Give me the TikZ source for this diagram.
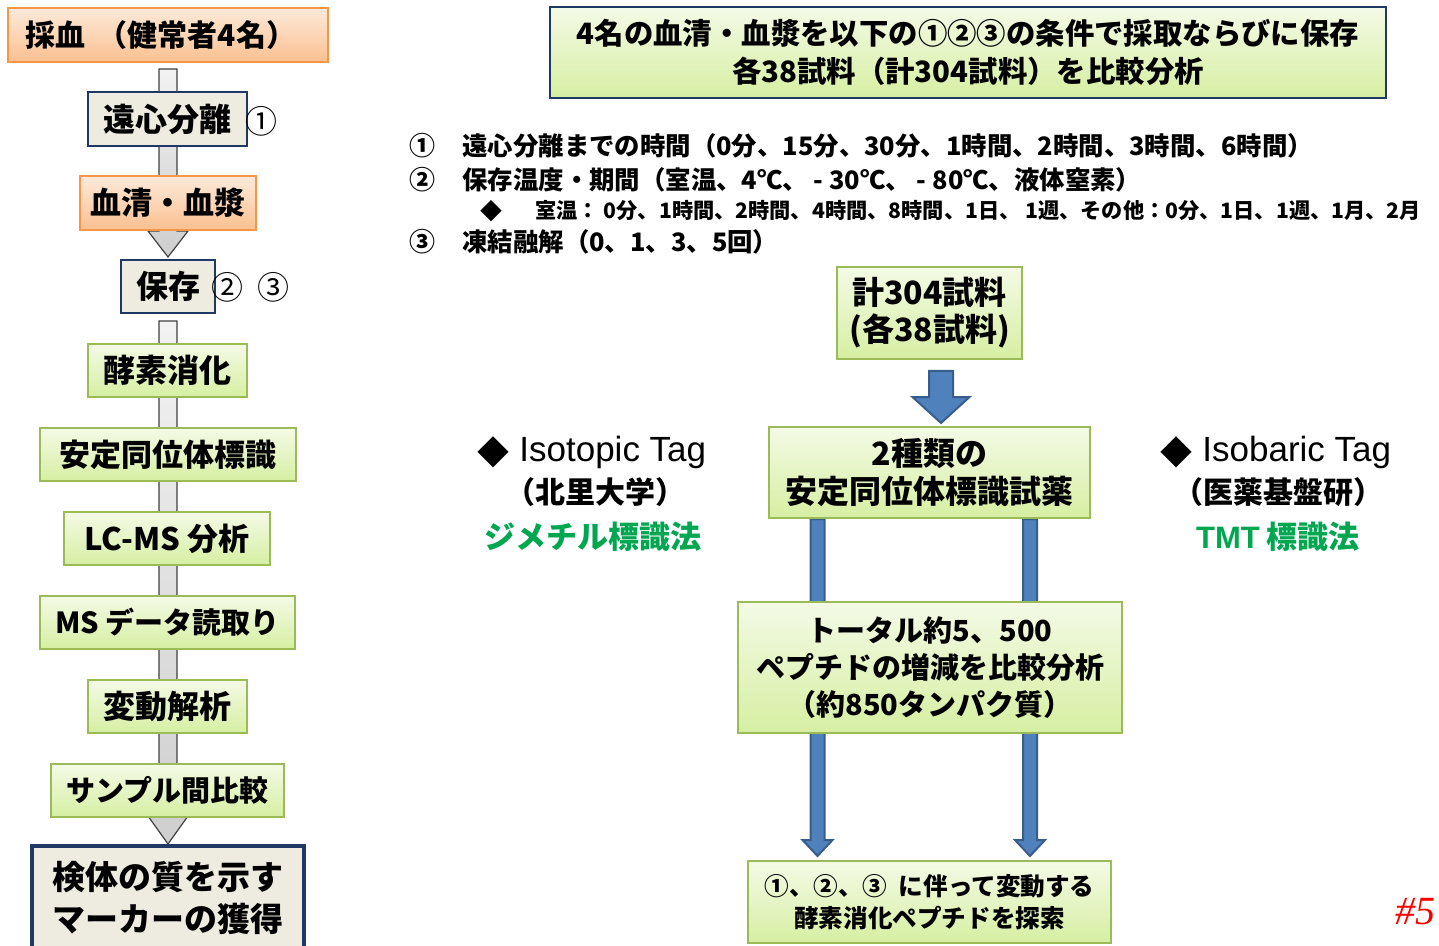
\documentclass[tikz,border=0pt]{standalone}
\usepackage{fontspec}
\setmainfont{Noto Sans CJK JP}
\newfontfamily\arialf{Liberation Sans}
\newfontfamily\serff{Liberation Serif}
\usetikzlibrary{calc,backgrounds}
\definecolor{orB}{HTML}{F79646}
\definecolor{orT}{HTML}{FDEADA}
\definecolor{orBot}{HTML}{FAC090}
\definecolor{grB}{HTML}{9BBB59}
\definecolor{grT}{HTML}{F4FAE6}
\definecolor{grBot}{HTML}{D6EFA2}
\definecolor{navy}{HTML}{1F3864}
\definecolor{beige}{HTML}{EEECE1}
\definecolor{blueF}{HTML}{4F81BD}
\definecolor{blueB}{HTML}{385D8A}
\definecolor{tagG}{HTML}{00A650}
\newcommand{\fs}[2]{\fontsize{#1}{#2}\selectfont}
\tikzset{
  boxbase/.style={inner sep=0pt, align=center},
  orangebox/.style={boxbase, draw=orB, line width=1pt, top color=orT, bottom color=orBot},
  beigebox/.style={boxbase, draw=navy, line width=1pt, fill=beige},
  greenbox/.style={boxbase, draw=grB, line width=1pt, top color=grT, bottom color=grBot},
  topbox/.style={boxbase, draw=navy, line width=1pt, top color=grT, bottom color=grBot},
  shaft/.style={draw=black!75, line width=0.6pt, top color=gray!10, bottom color=gray!38},
  bluearr/.style={draw=blueB, line width=1pt, fill=blueF, line join=miter},
  plain/.style={inner sep=0pt},
}
\begin{document}
\begin{tikzpicture}[x=0.5pt,y=-0.5pt]
\useasboundingbox (0,0) rectangle (1439,946);

% ---------------- left column ----------------
\node[orangebox, minimum width=160pt, minimum height=27pt, font=\fs{15}{18}\bfseries] (saiketsu) at (168,35)
  {\hspace*{-7pt}採血 \,（健常者4名）};
\node[beigebox, minimum width=79.5pt, minimum height=27pt, font=\fs{16}{18}\bfseries] (enshin) at (167.5,119)
  {遠心分離};
\node[plain, font=\fs{16}{18}] (c1) at (261,121) {①};
\node[orangebox, minimum width=88pt, minimum height=27pt, font=\fs{15.5}{18}\bfseries] (kessei) at (168,203)
  {血清・血漿};
\node[beigebox, minimum width=47pt, minimum height=26.5pt, font=\fs{16}{18}\bfseries] (hozon) at (168,286.5)
  {保存};
\node[plain, font=\fs{16}{18}] (c2) at (227,287) {②};
\node[plain, font=\fs{16}{18}] (c3) at (273,287) {③};
\node[greenbox, minimum width=79.5pt, minimum height=26.5pt, font=\fs{16}{18}\bfseries] (koso) at (167.5,370.5)
  {酵素消化};
\node[greenbox, minimum width=128pt, minimum height=26.5pt, font=\fs{15.5}{18}\bfseries] (antei) at (168,454.5)
  {安定同位体標識};
\node[greenbox, minimum width=103pt, minimum height=26.5pt, font=\fs{15.5}{18}\bfseries] (lcms) at (167,538.5)
  {LC-MS 分析};
\node[greenbox, minimum width=127.5pt, minimum height=26.5pt, font=\fs{14.5}{18}\bfseries] (msdata) at (167.5,622.5)
  {MS データ読取り};
\node[greenbox, minimum width=79.5pt, minimum height=26.5pt, font=\fs{16}{18}\bfseries] (hendo) at (167.5,706.5)
  {変動解析};
\node[greenbox, minimum width=116.5pt, minimum height=26.5pt, font=\fs{14.5}{18}\bfseries] (sample) at (167.5,790.5)
  {サンプル間比較};
\node[boxbase, draw=navy, line width=2pt, fill=beige, minimum width=136pt, minimum height=52pt, font=\fs{16.5}{21}\bfseries] (kentai) at (168,898)
  {検体の質を示す\\ マーカーの獲得};

\begin{pgfonlayer}{background}
\path[shaft] ($(saiketsu.south)+(-9,6)$) -- ($(saiketsu.south)+(9,6)$)
  -- ($(hozon.north)+(9,-28)$) -- ($(hozon.north)+(20,-28)$)
  -- ($(hozon.north)+(0,-2)$) -- ($(hozon.north)+(-20,-28)$)
  -- ($(hozon.north)+(-9,-28)$) -- cycle;
\path[shaft] ($(hozon.south)+(-9,7)$) -- ($(hozon.south)+(9,7)$)
  -- ($(kentai.north)+(9,-28)$) -- ($(kentai.north)+(20,-28)$)
  -- ($(kentai.north)+(0,0)$) -- ($(kentai.north)+(-20,-28)$)
  -- ($(kentai.north)+(-9,-28)$) -- cycle;
\end{pgfonlayer}

% ---------------- right side ----------------
\node[topbox, minimum width=418pt, minimum height=45.5pt, font=\fs{14.7}{19}\bfseries] (top) at (968,52.5)
  {4名の血清・血漿を以下の①②③の条件で採取ならびに保存\\ 各38試料（計304試料）を比較分析};

\node[plain, font=\fs{13}{15}\bfseries] (n1) at (422,146) {①};
\node[plain, anchor=west, font=\fs{12.7}{15}\bfseries] (t1) at (462,146)
  {遠心分離までの時間（0分、15分、30分、1時間、2時間、3時間、6時間）};
\node[plain, font=\fs{13}{15}\bfseries] (n2) at (422,180) {②};
\node[plain, anchor=west, font=\fs{12.7}{15}\bfseries] (t2) at (462,180)
  {保存温度・期間（室温、4℃、 - 30℃、 - 80℃、液体窒素）};
\node[plain, font=\fs{11}{13}\bfseries] (d3) at (491,211) {◆};
\node[plain, anchor=west, font=\fs{10.6}{13}\bfseries] (t3) at (535,211)
  {室温： 0分、1時間、2時間、4時間、8時間、1日、 1週、その他：0分、1日、1週、1月、2月};
\node[plain, font=\fs{13}{15}\bfseries] (n4) at (422,242) {③};
\node[plain, anchor=west, font=\fs{12.7}{15}\bfseries] (t4) at (462,242)
  {凍結融解（0、1、3、5回）};

\node[greenbox, minimum width=92.5pt, minimum height=46pt, font=\fs{16}{18.5}\bfseries] (keisu) at (929.5,313)
  {計304試料\\ (各38試料)};
\node[greenbox, minimum width=160.5pt, minimum height=45.5pt, font=\fs{16}{19}\bfseries] (shurui) at (929.5,472.5)
  {2種類の\\ 安定同位体標識試薬};
\node[greenbox, minimum width=192pt, minimum height=65.5pt, font=\fs{14.5}{18.5}\bfseries] (total) at (930,667.5)
  {トータル約5、500\\ ペプチドの増減を比較分析\\ （約850タンパク質）};
\node[greenbox, minimum width=181.5pt, minimum height=41pt, font=\fs{12.3}{16}\bfseries] (final) at (929.5,902)
  {①、②、③ \ に伴って変動する\\ 酵素消化ペプチドを探索};

% tags
\node[plain, font=\fs{16}{18}] (dIso) at (493,452) {◆};
\node[plain, anchor=west, font=\arialf\fs{17.5}{20}] (iso) at (519,452) {Isotopic Tag};
\node[plain, font=\fs{15}{18}\bfseries] (kita) at (595,492) {（北里大学）};
\node[plain, text=tagG, font=\fs{15.5}{18}\bfseries] (dimet) at (593,537) {ジメチル標識法};
\node[plain, font=\fs{16}{18}] (dIsb) at (1176,452) {◆};
\node[plain, anchor=west, font=\arialf\fs{17.5}{20}] (isb) at (1202,452) {Isobaric Tag};
\node[plain, font=\fs{15}{18}\bfseries] (nibio) at (1278,492) {（医薬基盤研）};
\node[plain, text=tagG, font=\fs{15.5}{18}\bfseries] (tmt) at (1278,537) {{\arialf TMT} 標識法};

\node[plain, anchor=east, text=red, font=\serff\itshape\fs{20}{22}] (pg) at (1436,912) {\#5};

% blue arrows
\coordinate (L1) at ($(shurui.south)+(-112,0)$);
\coordinate (R1) at ($(shurui.south)+(100.5,0)$);
\coordinate (L2) at (L1 |- final.north);
\coordinate (R2) at (R1 |- final.north);
\path[bluearr] ($(keisu.south)+(-0.5,11)$) -- ($(keisu.south)+(23.5,11)$)
  -- ($(keisu.south)+(23.5,37)$) -- ($(keisu.south)+(40,37)$)
  -- ($(keisu.south)+(11.5,63)$) -- ($(keisu.south)+(-17,37)$)
  -- ($(keisu.south)+(-0.5,37)$) -- cycle;
\begin{pgfonlayer}{background}
\path[bluearr] ($(L1)+(-7,0)$) -- ($(L1)+(7,0)$) -- ($(L2)+(7,-20)$) -- ($(L2)+(15,-20)$)
  -- ($(L2)+(0,-4)$) -- ($(L2)+(-15,-20)$) -- ($(L2)+(-7,-20)$) -- cycle;
\path[bluearr] ($(R1)+(-7,0)$) -- ($(R1)+(7,0)$) -- ($(R2)+(7,-20)$) -- ($(R2)+(15,-20)$)
  -- ($(R2)+(0,-4)$) -- ($(R2)+(-15,-20)$) -- ($(R2)+(-7,-20)$) -- cycle;
\end{pgfonlayer}
\end{tikzpicture}
\end{document}
